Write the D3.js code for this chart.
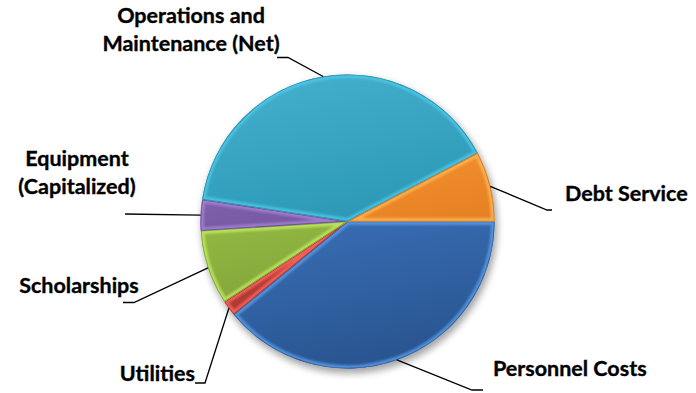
<!DOCTYPE html>
<html>
<head>
<meta charset="utf-8">
<script src="https://cdn.jsdelivr.net/npm/d3@7"></script>
<style>
  html, body { margin: 0; padding: 0; background: #fff; }
  svg { display: block; }
  .lbl { font-family: Lato, "Open Sans", sans-serif; font-weight: 700; fill: #000;
         stroke: #000; stroke-width: 0.35px; }
</style>
</head>
<body>
<svg id="chart" width="696" height="393"></svg>
<script>
// Budget categories, clockwise from the 3 o'clock position
const categories = ["Personnel Costs", "Utilities", "Scholarships",
                    "Equipment (Capitalized)", "Operations and Maintenance (Net)", "Debt Service"];
const values = [39.1, 1.7, 8.2, 3.4, 39.9, 7.7];
const labelLines = [["Personnel Costs"], ["Utilities"], ["Scholarships"],
                    ["Equipment", "(Capitalized)"], ["Operations and", "Maintenance (Net)"], ["Debt Service"]];

// Fill colours: [light, base, dark]
const palette = [
  ["#4f88cc", "#3a70b8", "#28548f"],
  ["#dc5a53", "#c4433c", "#9c302b"],
  ["#a9cd55", "#93b944", "#73962f"],
  ["#9072b8", "#7b5ca6", "#5f4488"],
  ["#43aecb", "#309dba", "#237e99"],
  ["#faa04a", "#ef8a2a", "#cc6c15"]
];

// Label placement: text anchor/baseline plus the elbow of each leader line
const labelLayout = [
  { x: 493, y: 376, anchor: "start",  elbow: [472, 390], end: [483, 390] },
  { x: 195, y: 381, anchor: "end",    elbow: [205, 383], end: [195, 383] },
  { x: 79,  y: 293, anchor: "middle", elbow: [134, 302.5], end: [123, 302.5] },
  { x: 77,  y: 166, anchor: "middle", elbow: null, end: [125, 214] },
  { x: 191, y: 23,  anchor: "middle", elbow: [288, 57.5], end: [277, 57.5] },
  { x: 565, y: 201, anchor: "start",  elbow: [547, 210], end: [552, 210] }
];

const svg = d3.select("#chart");
const cx = 347.5, cy = 221.5, r = 147;
const fontSize = 21.5, lineGap = 27.5;

const defs = svg.append("defs");
const shadow = defs.append("filter").attr("id", "shadow")
  .attr("x", "-20%").attr("y", "-20%").attr("width", "140%").attr("height", "140%");
shadow.append("feGaussianBlur").attr("stdDeviation", 3.5);
const soft = defs.append("filter").attr("id", "soft");
soft.append("feGaussianBlur").attr("stdDeviation", 1.2);

// vertical shading across the whole disc (coordinates relative to the centre)
palette.forEach((c, i) => {
  const g = defs.append("linearGradient").attr("id", "grad" + i)
    .attr("gradientUnits", "userSpaceOnUse")
    .attr("x1", -r * 0.2).attr("y1", -r).attr("x2", r * 0.2).attr("y2", r);
  g.append("stop").attr("offset", "0%").attr("stop-color", c[0]);
  g.append("stop").attr("offset", "40%").attr("stop-color", c[1]);
  g.append("stop").attr("offset", "100%").attr("stop-color", c[2]);
});

const pie = d3.pie().sort(null).value(d => d)
  .startAngle(Math.PI / 2).endAngle(Math.PI / 2 + 2 * Math.PI);
const arcs = pie(values);
const arc = d3.arc().innerRadius(0).outerRadius(r);

const root = svg.append("g").attr("transform", `translate(${cx},${cy})`);

// soft drop shadow under the disc
root.append("circle").attr("cx", 2).attr("cy", 4).attr("r", r + 1)
  .attr("fill", "#000").attr("opacity", 0.35).attr("filter", "url(#shadow)");

arcs.forEach((a, i) => {
  defs.append("clipPath").attr("id", "clip" + i)
    .append("path").attr("d", arc(a));
});

const slices = root.selectAll("g.slice").data(arcs).join("g").attr("class", "slice");
slices.append("path").attr("d", arc).attr("fill", (d, i) => `url(#grad${i})`);

// bevel: light inner rim and a darker edge
slices.each(function (a, i) {
  const g = d3.select(this).append("g").attr("clip-path", `url(#clip${i})`);
  g.append("path").attr("d", arc(a))
    .attr("fill", "none").attr("stroke", d3.color(palette[i][0]).brighter(0.4)).attr("stroke-width", 7)
    .attr("stroke-opacity", 0.8).attr("filter", "url(#soft)");
  g.append("path").attr("d", arc(a))
    .attr("fill", "none").attr("stroke", palette[i][2]).attr("stroke-width", 1.6)
    .attr("stroke-opacity", 0.8);
});

// leader lines from the middle of each slice's rim
const lines = svg.append("g");
arcs.forEach((a, i) => {
  const mid = (a.startAngle + a.endAngle) / 2;
  const p0 = [cx + r * Math.sin(mid), cy - r * Math.cos(mid)];
  const L = labelLayout[i];
  const pts = [p0];
  if (L.elbow) pts.push(L.elbow);
  pts.push(L.end);
  lines.append("path").attr("d", d3.line()(pts))
    .attr("fill", "none").attr("stroke", "#000").attr("stroke-width", 1.3);
});

// labels
const labels = svg.append("g");
labelLines.forEach((ln, i) => {
  const L = labelLayout[i];
  const t = labels.append("text").attr("class", "lbl")
    .attr("x", L.x).attr("y", L.y).attr("text-anchor", L.anchor)
    .attr("font-size", fontSize);
  ln.forEach((s, k) => {
    t.append("tspan").attr("x", L.x).attr("dy", k === 0 ? 0 : lineGap).text(s);
  });
});
</script>
</body>
</html>
